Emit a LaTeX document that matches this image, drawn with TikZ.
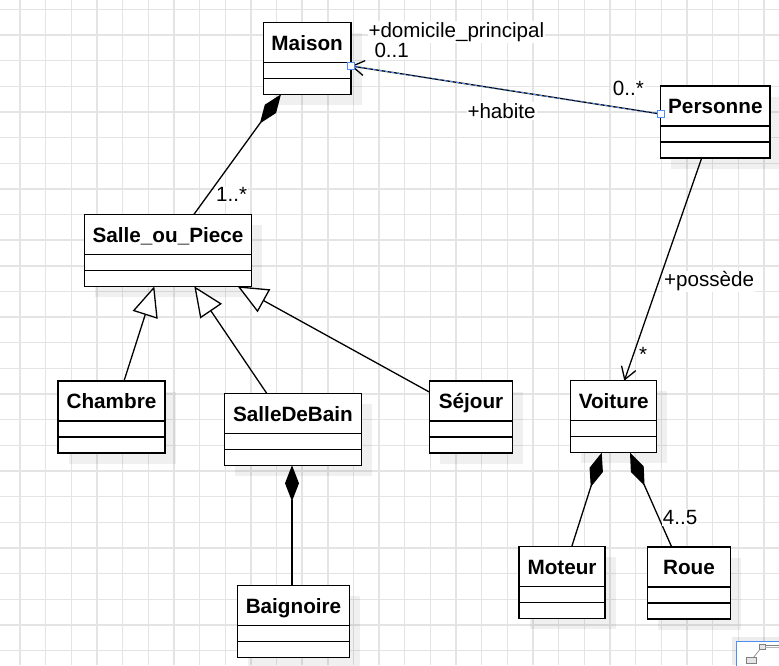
\documentclass[tikz,border=0pt]{standalone}
\usepackage{fontspec}
\setmainfont{Liberation Sans}
\usetikzlibrary{arrows.meta,calc}
\definecolor{gridc}{HTML}{E4E4E4}
\definecolor{selblue}{HTML}{4C8DF6}
\tikzset{
  gridline/.style={draw=gridc, line width=1.4pt},
  shadowc/.style={fill=black, fill opacity=0.06},
  classbox/.style={draw=black, fill=white, line width=1.3pt, inner sep=0pt, outer sep=0pt, rectangle},
  sepline/.style={draw=black, line width=1.3pt},
  clsname/.style={font=\bfseries\fontsize{20.7}{24}\selectfont, inner sep=0pt, anchor=base},
  lbl/.style={font=\fontsize{20.6}{24}\selectfont, inner sep=1pt, anchor=base west, fill=white},
  conn/.style={draw=black, line width=1.3pt},
  compo/.style={conn, -{Diamond[length=36pt,width=14pt]}},
  nav/.style={conn, -{Straight Barb[length=12pt,width=15pt]}},
  inherit/.style={conn, -{Triangle[fill=white,length=30pt,width=26pt]}},
  handle/.style={draw=selblue, fill=white, line width=1pt, rectangle, inner sep=0pt, minimum size=7pt},
}
\newcommand{\umlcls}[5]{% name, left x, top y, width, text
  \fill[shadowc] ({#2+10.5},{#3+10.5}) rectangle ++(#4,72);
  \node[classbox, anchor=north west, minimum width=#4pt, minimum height=72pt] (#1) at (#2,#3) {};
  \node[clsname] (#1-name) at ($(#1.north)+(0,27.7)$) {#5};
  \draw[sepline] ($(#1.north west)+(0,40)$) -- ($(#1.north east)+(0,40)$);
  \draw[sepline] ($(#1.north west)+(0,56)$) -- ($(#1.north east)+(0,56)$);
}
\begin{document}
\begin{tikzpicture}[x=1pt,y=-1pt]
\useasboundingbox[fill=white] (0,0) rectangle (779,665);
% grid
\foreach \i in {0,...,29} \draw[gridline] ({20+25.65*\i},0) -- ({20+25.65*\i},665);
\foreach \j in {0,...,25} \draw[gridline] (0,{9.3+25.65*\j}) -- (779,{9.3+25.65*\j});
% classes
\umlcls{maison}{263.3}{22.3}{87.7}{Maison}
\umlcls{personne}{660.7}{86}{109.3}{Personne}
\umlcls{salle}{84.3}{214.3}{167.4}{Salle\_ou\_Piece}
\umlcls{chambre}{58}{381}{107}{Chambre}
\umlcls{sdb}{224.7}{393.3}{136.6}{SalleDeBain}
\umlcls{sejour}{429.3}{381}{83.4}{Séjour}
\umlcls{voiture}{570.7}{380.7}{86}{Voiture}
\umlcls{baignoire}{237.7}{585.7}{111.6}{Baignoire}
\umlcls{moteur}{519}{546.7}{86}{Moteur}
\umlcls{roue}{647.3}{547}{83.4}{Roue}
% compositions
\draw[compo] ($(salle.north west)+(109.7,0)$) -- ($(maison.south west)+(17.7,0)$);
\draw[compo] ($(baignoire.north west)+(54.3,0)$) -- ($(sdb.south west)+(67.3,0)$);
\draw[compo] ($(moteur.north west)+(52.7,0)$) -- ($(voiture.south west)+(31,0)$);
\draw[compo] ($(roue.north west)+(24.4,0)$) -- ($(voiture.south west)+(59.3,0)$);
% generalizations
\draw[inherit] ($(chambre.north west)+(66,0)$) -- ($(salle.south west)+(70,0)$);
\draw[inherit] ($(sdb.north west)+(42,0)$) -- ($(salle.south west)+(110,0)$);
\draw[inherit] ($(sejour.north west)+(0,11)$) -- ($(salle.south west)+(153.4,0)$);
% associations
\draw[nav] ($(personne.south west)+(41,0)$) -- ($(voiture.north west)+(53.6,0)$);
\draw[nav] ($(personne.north west)+(0,28)$) -- ($(maison.north east)+(0,43.7)$);
\draw[selblue, line width=0.9pt, dash pattern=on 3pt off 3pt] ($(personne.north west)+(0,28)$) -- ($(maison.north east)+(0,43.7)$);
\node[handle] (hm) at ($(maison.north east)+(0,43.7)$) {};
\node[handle] (hp) at ($(personne.north west)+(0,28)$) {};
% labels
\node[lbl] (l1) at (367.3,37.3) {+domicile\_principal};
\node[lbl] (l2) at (373.3,57.5) {0..1};
\node[lbl] (l3) at (611.7,95) {0..*};
\node[lbl] (l4) at (466.3,118.3) {+habite};
\node[lbl] (l5) at (215,201.7) {1..*};
\node[lbl] (l6) at (663,286.7) {+possède};
\node[lbl] (l7) at (638,361) {*};
\node[lbl] (l8) at (661.7,524.3) {4..5};
% outline widget
\fill[black, fill opacity=0.07] (731.7,636.7) rectangle (779,665);
\draw[selblue, fill=white, line width=1.2pt] (736.7,641.7) rectangle (782,668);
\draw[gray, fill=gray!20, line width=0.6pt] (759.3,644.3) rectangle (765,649.3);
\draw[gray, line width=0.6pt] (765,645) -- (779,645);
\draw[gray!60, line width=0.6pt] (765,647.5) -- (779,647.5);
\draw[gray, fill=gray!20, line width=0.6pt] (746,657.7) rectangle (756,663.5);
\draw[gray, line width=0.6pt] (760,649.3) -- (753.3,657.7);
\end{tikzpicture}
\end{document}
